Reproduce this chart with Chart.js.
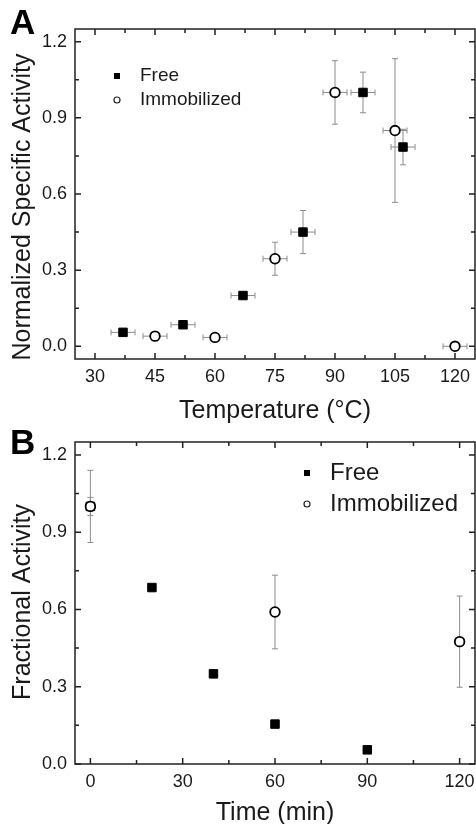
<!DOCTYPE html>
<html><head><meta charset="utf-8">
<script src="https://cdn.jsdelivr.net/npm/chart.js@4/dist/chart.umd.min.js"></script>
<style>
html,body{margin:0;padding:0;background:#fff;}
#wrap{position:relative;width:476px;height:824px;overflow:hidden;background:#fff;}
canvas{position:absolute;left:0;}
#cA{top:0;} #cB{top:420px;}
</style></head><body>
<div id="wrap"><canvas id="cA" width="482" height="440"></canvas><canvas id="cB" width="482" height="404"></canvas></div>
<script>
// ---------- data ----------
const seriesNames = ['Free', 'Immobilized'];

// Panel A: temperature dependence
const tempTicks = [30, 45, 60, 75, 90, 105, 120];
const actTicks = [0, 0.3, 0.6, 0.9, 1.2];
const tempFree = [37, 52, 67, 82, 97, 107];
const actFree = [0.055, 0.085, 0.2, 0.45, 1.0, 0.785];
const actFreeErr = [0.01, 0.01, 0.01, 0.085, 0.08, 0.07];
const tempFreeErr = [3, 3, 3, 3, 3, 3];
const tempImm = [45, 60, 75, 90, 105, 120];
const actImm = [0.04, 0.035, 0.345, 1.0, 0.85, 0.0];
const actImmErr = [0.01, 0.01, 0.065, 0.125, 0.283, 0.01];
const tempImmErr = [3, 3, 3, 3, 3, 3];

// Panel B: time course
const timeTicks = [0, 30, 60, 90, 120];
const fracTicks = [0, 0.3, 0.6, 0.9, 1.2];
const timeFree = [0, 20, 40, 60, 90];
const fracFree = [1.0, 0.685, 0.35, 0.155, 0.055];
const fracFreeErr = [0.035, 0.01, 0.015, 0.005, 0.005];
const timeImm = [0, 60, 120];
const fracImm = [1.0, 0.59, 0.475];
const fracImmErr = [0.14, 0.143, 0.177];

// ---------- helpers ----------
const FONT = "'Liberation Sans', Arial, Helvetica, sans-serif";
const TXT = '#1a1a1a';
const pts = (xs, ys) => xs.map((x, i) => ({x: x, y: ys[i]}));

const errorBarPlugin = {
  id: 'errbars',
  beforeDatasetsDraw(chart) {
    const ctx = chart.ctx, xs = chart.scales.x, ys = chart.scales.y;
    ctx.save();
    ctx.strokeStyle = '#8c8c8c';
    ctx.lineWidth = 1;
    const cap = 3;
    chart.data.datasets.forEach(ds => {
      ds.data.forEach((p, i) => {
        const px = xs.getPixelForValue(p.x), py = ys.getPixelForValue(p.y);
        if (ds.yErr && ds.yErr[i]) {
          const t = ys.getPixelForValue(p.y + ds.yErr[i]);
          const b = ys.getPixelForValue(p.y - ds.yErr[i]);
          ctx.beginPath();
          ctx.moveTo(px, t); ctx.lineTo(px, b);
          ctx.moveTo(px - cap, t); ctx.lineTo(px + cap, t);
          ctx.moveTo(px - cap, b); ctx.lineTo(px + cap, b);
          ctx.stroke();
        }
        if (ds.xErr && ds.xErr[i]) {
          const l = xs.getPixelForValue(p.x - ds.xErr[i]);
          const r = xs.getPixelForValue(p.x + ds.xErr[i]);
          ctx.beginPath();
          ctx.moveTo(l, py); ctx.lineTo(r, py);
          ctx.moveTo(l, py - cap); ctx.lineTo(l, py + cap);
          ctx.moveTo(r, py - cap); ctx.lineTo(r, py + cap);
          ctx.stroke();
        }
      });
    });
    ctx.restore();
  }
};

const framePlugin = {
  id: 'frame',
  afterDatasetsDraw(chart, args, opts) {
    const ctx = chart.ctx, a = chart.chartArea, xs = chart.scales.x, ys = chart.scales.y;
    ctx.save();
    ctx.strokeStyle = '#222';
    ctx.lineWidth = 1.5;
    ctx.strokeRect(a.left, a.top, a.right - a.left, a.bottom - a.top);
    const major = 6, minor = 4;
    const mids = arr => arr.slice(1).map((v, i) => (v + arr[i]) / 2);
    ctx.beginPath();
    const xt = [[opts.xTicks, major], [mids(opts.xTicks), minor]];
    xt.forEach(([vals, len]) => vals.forEach(v => {
      const px = xs.getPixelForValue(v);
      ctx.moveTo(px, a.bottom); ctx.lineTo(px, a.bottom - len);
      ctx.moveTo(px, a.top); ctx.lineTo(px, a.top + len);
    }));
    const yt = [[opts.yTicks, major], [mids(opts.yTicks), minor]];
    yt.forEach(([vals, len]) => vals.forEach(v => {
      const py = ys.getPixelForValue(v);
      ctx.moveTo(a.left, py); ctx.lineTo(a.left + len, py);
      ctx.moveTo(a.right, py); ctx.lineTo(a.right - len, py);
    }));
    ctx.stroke();
    ctx.restore();
  },
  afterDraw(chart, args, opts) {
    const ctx = chart.ctx;
    ctx.save();
    // panel label
    ctx.fillStyle = '#000';
    ctx.font = 'bold ' + opts.labelSize + 'px ' + FONT;
    ctx.textBaseline = 'alphabetic';
    ctx.textAlign = 'left';
    ctx.fillText(opts.label, opts.labelX, opts.labelY);
    // y-axis title
    ctx.save();
    ctx.translate(opts.yTitle.x, opts.yTitle.y);
    ctx.rotate(-Math.PI / 2);
    ctx.font = opts.yTitle.size + 'px ' + FONT;
    ctx.fillStyle = TXT;
    ctx.textAlign = 'center';
    ctx.textBaseline = 'middle';
    ctx.fillText(opts.yTitle.text, 0, 0);
    ctx.restore();
    // legend
    const L = opts.legend;
    ctx.font = L.size + 'px ' + FONT;
    ctx.textBaseline = 'middle';
    ctx.textAlign = 'left';
    seriesNames.forEach((name, i) => {
      const cy = L.y + i * L.gap;
      ctx.fillStyle = TXT;
      ctx.fillText(name, L.tx, cy);
      if (i === 0) {
        ctx.fillStyle = '#000';
        ctx.fillRect(L.mx - L.ms / 2, cy - L.ms / 2, L.ms, L.ms);
      } else {
        ctx.beginPath();
        ctx.arc(L.mx, cy, L.ms / 2, 0, Math.PI * 2);
        ctx.fillStyle = '#fff'; ctx.fill();
        ctx.strokeStyle = '#222'; ctx.lineWidth = 1.2; ctx.stroke();
      }
    });
    ctx.restore();
  }
};

function makeChart(id, cfg) {
  return new Chart(document.getElementById(id), {
    type: 'scatter',
    data: {
      datasets: [
        { label: seriesNames[0], data: pts(cfg.fx, cfg.fy), yErr: cfg.fyErr, xErr: cfg.fxErr,
          pointStyle: 'rect', pointRadius: 6.0, backgroundColor: '#000', borderColor: '#000', borderWidth: 1, order: 1 },
        { label: seriesNames[1], data: pts(cfg.ix, cfg.iy), yErr: cfg.iyErr, xErr: cfg.ixErr,
          pointStyle: 'circle', pointRadius: 4.8, backgroundColor: '#fff', borderColor: '#000', borderWidth: 1.8, order: 0 }
      ]
    },
    options: {
      responsive: false, animation: false, devicePixelRatio: 1,
      layout: { padding: { top: cfg.padTop, right: 7, left: 0, bottom: 0 } },
      plugins: {
        legend: { display: false }, tooltip: { enabled: false },
        frame: { xTicks: cfg.xTicks, yTicks: cfg.yTicks, label: cfg.label, labelX: 10, labelY: cfg.labelY, labelSize: 35,
                 legend: cfg.legend, yTitle: cfg.yTitle }
      },
      scales: {
        x: {
          type: 'linear', min: cfg.xMin, max: cfg.xMax,
          afterBuildTicks: s => { s.ticks = cfg.xTicks.map(v => ({ value: v })); },
          afterFit: s => { s.height = cfg.xH; s.paddingLeft = 0; s.paddingRight = 0; },
          grid: { display: false, drawTicks: false }, border: { display: false },
          ticks: { padding: 7, color: TXT, font: { family: FONT, size: 18 }, maxRotation: 0, callback: v => String(v) },
          title: { display: true, text: cfg.xTitle, color: TXT, font: { family: FONT, size: 25 }, padding: { top: 0, bottom: cfg.xTitlePad } }
        },
        y: {
          type: 'linear', min: cfg.yMin, max: cfg.yMax,
          afterBuildTicks: s => { s.ticks = cfg.yTicks.map(v => ({ value: v })); },
          afterFit: s => { s.width = 75; s.paddingTop = 0; s.paddingBottom = 0; },
          grid: { display: false, drawTicks: false }, border: { display: false },
          ticks: { padding: 8, color: TXT, font: { family: FONT, size: 18 }, callback: v => Number(v).toFixed(1) },
          title: { display: false }
        }
      }
    },
    plugins: [errorBarPlugin, framePlugin]
  });
}

makeChart('cA', {
  fx: tempFree, fy: actFree, fyErr: actFreeErr, fxErr: tempFreeErr,
  ix: tempImm, iy: actImm, iyErr: actImmErr, ixErr: tempImmErr,
  xMin: 25, xMax: 125, yMin: -0.05, yMax: 1.25, xTicks: tempTicks, yTicks: actTicks,
  xTitle: 'Temperature (°C)',
  yTitle: { text: 'Normalized Specific Activity', x: 23, y: 207, size: 25 },
  padTop: 29, xH: 81, xTitlePad: 14, label: 'A', labelY: 34,
  legend: { mx: 117, tx: 140, y: 76, gap: 24, size: 19, ms: 6 }
});
makeChart('cB', {
  fx: timeFree, fy: fracFree, fyErr: fracFreeErr, fxErr: null,
  ix: timeImm, iy: fracImm, iyErr: fracImmErr, ixErr: null,
  xMin: -5, xMax: 125, yMin: 0, yMax: 1.25, xTicks: timeTicks, yTicks: fracTicks,
  xTitle: 'Time (min)',
  yTitle: { text: 'Fractional Activity', x: 23, y: 182, size: 25 },
  padTop: 22, xH: 60, xTitlePad: -4, label: 'B', labelY: 34,
  legend: { mx: 307, tx: 330, y: 53, gap: 31, size: 24, ms: 6 }
});
</script>
</body></html>
